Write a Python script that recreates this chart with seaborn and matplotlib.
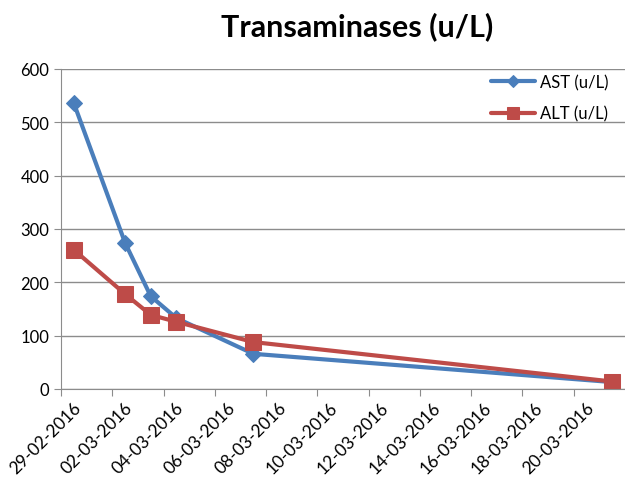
import matplotlib
matplotlib.use("Agg")
import matplotlib.pyplot as plt
import matplotlib.dates as mdates
import matplotlib.transforms as mtransforms
import seaborn as sns
import pandas as pd
import numpy as np

# data
dates = ["29-02-2016", "02-03-2016", "03-03-2016", "04-03-2016", "07-03-2016", "21-03-2016"]
ast = [536, 274, 174, 133, 66, 13]
alt = [261, 178, 139, 126, 88, 14]
tick_dates = ["29-02-2016", "02-03-2016", "04-03-2016", "06-03-2016", "08-03-2016",
              "10-03-2016", "12-03-2016", "14-03-2016", "16-03-2016", "18-03-2016", "20-03-2016"]

df = pd.DataFrame({"date": pd.to_datetime(dates, format="%d-%m-%Y"), "AST (u/L)": ast, "ALT (u/L)": alt})
# excel puts the points in the middle of the day
df["x"] = df["date"] + pd.Timedelta(hours=12)

sns.set_style("white")
plt.rcParams["font.family"] = ["Lato", "DejaVu Sans"]
plt.rcParams["text.color"] = "black"
plt.rcParams["xtick.labelcolor"] = "black"
plt.rcParams["ytick.labelcolor"] = "black"

fig = plt.figure(figsize=(6.25, 4.81), dpi=100)
ax = fig.add_axes([61/625, 1-390/481, 1-61/625, 320/481])

sns.lineplot(data=df, x="x", y="AST (u/L)", ax=ax, color="#4A7EBB", lw=3,
             marker="D", markersize=8, markeredgecolor="#4A7EBB", label="AST (u/L)")
sns.lineplot(data=df, x="x", y="ALT (u/L)", ax=ax, color="#BE4B48", lw=3,
             marker="s", markersize=11, markeredgecolor="#BE4B48", label="ALT (u/L)")

ticks = pd.to_datetime(tick_dates, format="%d-%m-%Y")
ax.set_xticks(ticks)
ax.xaxis.set_major_formatter(mdates.DateFormatter("%d-%m-%Y"))
ax.set_xlim(ticks[0], ticks[0] + pd.Timedelta(days=22))
ax.set_ylim(0, 600)
ax.set_yticks(np.arange(0, 601, 100))
ax.grid(axis="y", color="#8c8c8c", lw=1)
ax.set_axisbelow(True)
for s in ["top", "right"]:
    ax.spines[s].set_visible(False)
for s in ["left", "bottom"]:
    ax.spines[s].set_color("#8c8c8c")
ax.tick_params(axis="y", direction="out", length=5, color="#8c8c8c", labelsize=12, left=True)
ax.tick_params(axis="x", direction="out", length=5, color="#8c8c8c", labelsize=12.5, bottom=True, pad=2)
off = mtransforms.ScaledTranslation(12/100, 0, fig.dpi_scale_trans)
for lab in ax.get_xticklabels():
    lab.set_rotation(45)
    lab.set_ha("right")
    lab.set_rotation_mode("anchor")
    lab.set_transform(lab.get_transform() + off)
ax.set_xlabel("")
ax.set_ylabel("")

ax.legend(loc="upper right", bbox_to_anchor=(0.985, 1.01), frameon=False, fontsize=12,
          handlelength=2.6, markerscale=0.75, labelspacing=0.9, borderaxespad=0.1,
          handletextpad=0.3)
fig.text(357/625, 1-27/481, "Transaminases (u/L)", ha="center", va="center",
         fontsize=22, fontweight="bold")

fig.savefig("out.png", dpi=100)
